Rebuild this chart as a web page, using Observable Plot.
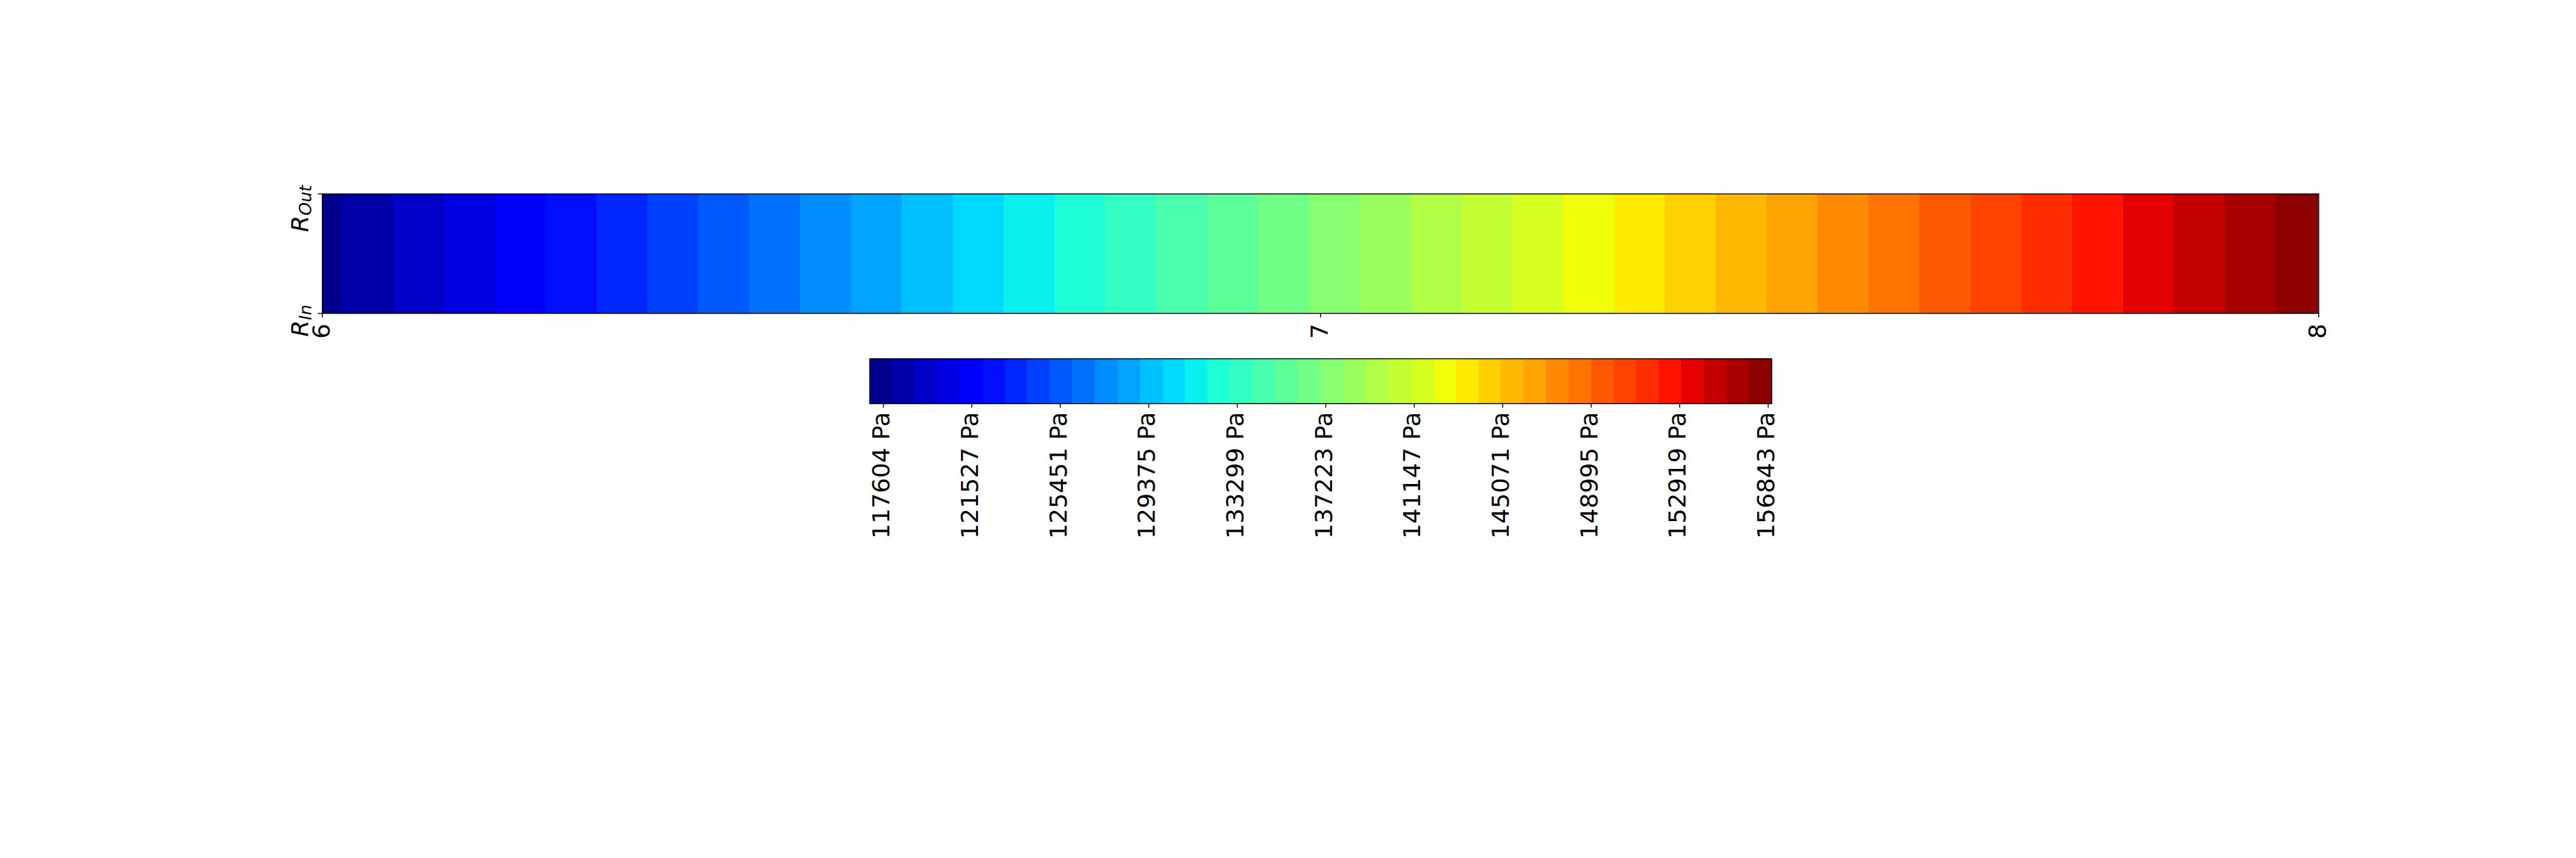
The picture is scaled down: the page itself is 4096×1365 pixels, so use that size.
<!DOCTYPE html>
<html>
<head>
<meta charset="utf-8">
<script src="https://cdn.jsdelivr.net/npm/d3@7"></script>
<script src="https://cdn.jsdelivr.net/npm/@observablehq/plot@0.6"></script>
<style>
html, body { margin: 0; padding: 0; background: #fff; overflow: hidden; }
#chart { width: 4096px; height: 1365px; position: relative; background: #fff; }
#chart svg { display: block; }
</style>
</head>
<body>
<div id="chart"></div>
<script>
// ---- data ----
const levels = [117000, 118000, 119000, 120000, 121000, 122000, 123000, 124000, 125000, 126000,
                127000, 128000, 129000, 130000, 131000, 132000, 133000, 134000, 135000, 136000,
                137000, 138000, 139000, 140000, 141000, 142000, 143000, 144000, 145000, 146000,
                147000, 148000, 149000, 150000, 151000, 152000, 153000, 154000, 155000, 156000,
                157000];
const fieldX = [6, 8];                 // position along the strip
const fieldP = [117604, 156843];       // pressure at those positions (Pa)
const stripTicks = [6, 7, 8];
const stripTickLabels = ["6", "7", "8"];
const radialTicks = [0, 1];
const radialTickLabels = ["R_In", "R_Out"];
const cbarTicks = [117604, 121527, 125451, 129375, 133299, 137223, 141147, 145071, 148995, 152919, 156843];
const cbarTickLabels = ["117604 Pa", "121527 Pa", "125451 Pa", "129375 Pa", "133299 Pa", "137223 Pa",
                        "141147 Pa", "145071 Pa", "148995 Pa", "152919 Pa", "156843 Pa"];

// ---- jet colormap (matplotlib segment data, 256-entry LUT) ----
const jetSeg = {
  r: [[0, 0], [0.35, 0], [0.66, 1], [0.89, 1], [1, 0.5]],
  g: [[0, 0], [0.125, 0], [0.375, 1], [0.64, 1], [0.91, 0], [1, 0]],
  b: [[0, 0.5], [0.11, 1], [0.34, 1], [0.65, 0], [1, 0]]
};
function segVal(s, x) {
  for (let k = 0; k < s.length - 1; k++) {
    if (x <= s[k + 1][0]) {
      const t = (x - s[k][0]) / (s[k + 1][0] - s[k][0]);
      return s[k][1] + t * (s[k + 1][1] - s[k][1]);
    }
  }
  return s[s.length - 1][1];
}
function jet(v) {
  const i = Math.min(255, Math.floor(v * 256));
  const x = i / 255;
  return d3.rgb(Math.round(segVal(jetSeg.r, x) * 255), Math.round(segVal(jetSeg.g, x) * 255), Math.round(segVal(jetSeg.b, x) * 255)).formatHex();
}
const nBands = levels.length - 1;
const bandColors = d3.range(nBands).map(i => jet((i + 0.5) / nBands));
const colorOpts = {type: "threshold", domain: levels.slice(1, -1), range: bandColors};

const cbarBands = d3.range(nBands).map(i => ({lo: levels[i], hi: levels[i + 1], mid: (levels[i] + levels[i + 1]) / 2}));
const xOfP = d3.scaleLinear().domain(fieldP).range(fieldX);
const stripBands = cbarBands
  .filter(b => b.hi > fieldP[0] && b.lo < fieldP[1])
  .map(b => ({x1: xOfP(Math.max(b.lo, fieldP[0])), x2: xOfP(Math.min(b.hi, fieldP[1])), mid: b.mid}));

const FS = 38;
const baseStyle = {background: "white", display: "block", fontFamily: "'DejaVu Sans', sans-serif", color: "black"};

const plotA = Plot.plot({
  width: 4096, height: 560,
  marginTop: 308, marginBottom: 61.9, marginLeft: 512, marginRight: 409.6,
  style: baseStyle,
  x: {domain: [6, 8], label: null},
  y: {domain: [0, 1], label: null},
  color: colorOpts,
  marks: [
    Plot.rect(stripBands, {x1: "x1", x2: "x2", y1: 0, y2: 1, fill: "mid", shapeRendering: "crispEdges"}),
    Plot.frame({stroke: "black", strokeWidth: 1.5}),
    Plot.axisX(stripTicks, {tickSize: 6.8, strokeWidth: 1.5, tickFormat: () => "", label: null}),
    Plot.axisY(radialTicks, {tickSize: 6.8, strokeWidth: 1.5, tickFormat: () => "", label: null}),
    Plot.text(stripTicks, {x: d => d, text: (d, i) => stripTickLabels[i], frameAnchor: "bottom",
      rotate: -90, textAnchor: "end", lineAnchor: "bottom", dx: 11.4, dy: 16.2, fontSize: FS}),
    Plot.text(radialTicks, {y: d => d, text: (d, i) => radialTickLabels[i], frameAnchor: "left",
      rotate: -90, textAnchor: "end", lineAnchor: "bottom", dx: -22.8, dy: -14, fontSize: FS, fontStyle: "italic"})
  ]
});

// math-style subscripts for R_In / R_Out
plotA.querySelectorAll("text").forEach(t => {
  const m = t.textContent.match(/^R_(\w+)$/);
  if (!m) return;
  t.textContent = "";
  const ns = "http://www.w3.org/2000/svg";
  const a = document.createElementNS(ns, "tspan");
  a.textContent = "R";
  const b = document.createElementNS(ns, "tspan");
  b.textContent = m[1];
  b.setAttribute("font-size", (FS * 0.7).toFixed(1));
  b.setAttribute("dy", "5.3");
  t.appendChild(a);
  t.appendChild(b);
});

const plotB = Plot.plot({
  width: 4096, height: 805,
  marginTop: 10.2, marginBottom: 723.3, marginLeft: 1382.5, marginRight: 1279.4,
  style: baseStyle,
  x: {domain: [levels[0], levels[levels.length - 1]], label: null},
  y: {domain: [0, 1], axis: null},
  color: colorOpts,
  marks: [
    Plot.rect(cbarBands, {x1: "lo", x2: "hi", y1: 0, y2: 1, fill: "mid", shapeRendering: "crispEdges"}),
    Plot.frame({stroke: "black", strokeWidth: 1.5}),
    Plot.axisX(cbarTicks, {tickSize: 6.8, strokeWidth: 1.5, tickFormat: () => "", label: null}),
    Plot.text(cbarTicks, {x: d => d, text: (d, i) => cbarTickLabels[i], frameAnchor: "bottom",
      rotate: -90, textAnchor: "end", lineAnchor: "bottom", dx: 9.6, dy: 13.3, fontSize: FS})
  ]
});

const chart = document.getElementById("chart");
chart.appendChild(plotA);
chart.appendChild(plotB);
</script>
</body>
</html>
